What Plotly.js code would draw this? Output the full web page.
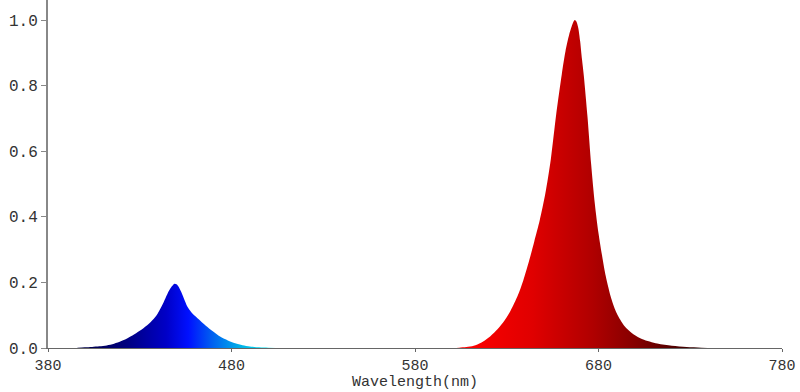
<!DOCTYPE html>
<html>
<head>
<meta charset="utf-8">
<script src="https://cdn.plot.ly/plotly-3.0.1.min.js"></script>
<style>
html,body{margin:0;padding:0;background:#fff;}
#chart{width:800px;height:392px;}
</style>
</head>
<body>
<div id="chart"></div>
<script>
// Blue LED emission (wavelength nm, relative intensity)
var blueWavelength = [396,400,404,408,412,416,420,424,428,432,436,439,442,444,446,447.5,449,450,451,452.5,454,456,458,460,463,466,470,474,478,482,486,490,495,500,504];
var blueIntensity  = [0.001,0.002,0.003,0.005,0.008,0.013,0.021,0.032,0.045,0.060,0.079,0.098,0.128,0.152,0.175,0.188,0.196,0.194,0.188,0.172,0.152,0.126,0.110,0.098,0.083,0.068,0.050,0.034,0.023,0.0145,0.0085,0.0045,0.002,0.0007,0];

// Red LED emission
var redWavelength = [600,604,608,612,616,620,624,628,632,636,639,642,645,648,651,654,657,660,662,664,666,667,668,669,670,671,672,674,676,678,680,682,684,687,690,694,699,704,712,720,728,736,745];
var redIntensity  = [0,0.001,0.003,0.007,0.016,0.031,0.052,0.078,0.113,0.160,0.206,0.262,0.325,0.390,0.470,0.575,0.715,0.835,0.905,0.955,0.990,1.0,0.995,0.975,0.935,0.880,0.830,0.705,0.560,0.440,0.350,0.280,0.218,0.150,0.105,0.068,0.042,0.027,0.014,0.007,0.003,0.001,0];

var xTicks = [380,480,580,680,780];
var yTicks = [0,0.2,0.4,0.6,0.8,1.0];
var xTitle = 'Wavelength(nm)';

var blueScale = [[0,'#000040'],[0.25,'#000080'],[0.45,'#0000c8'],[0.56,'#0010ff'],[0.68,'#0060f0'],[0.82,'#00b0e8'],[1,'#00f0f0']];
var redScale = [[0,'#ff0000'],[0.3,'#e00000'],[0.55,'#b00000'],[0.75,'#800000'],[1,'#300000']];

var traces = [
  {x: blueWavelength, y: blueIntensity, type:'scatter', mode:'lines',
   line:{width:0, shape:'spline', smoothing:0.8}, fill:'tozeroy',
   fillgradient:{type:'horizontal', colorscale: blueScale, start:396, stop:504},
   hoverinfo:'skip', showlegend:false},
  {x: redWavelength, y: redIntensity, type:'scatter', mode:'lines',
   line:{width:0, shape:'spline', smoothing:0.8}, fill:'tozeroy',
   fillgradient:{type:'horizontal', colorscale: redScale, start:605, stop:735},
   hoverinfo:'skip', showlegend:false}
];

var fontFamily = '"Liberation Mono", "Courier New", monospace';
var tickFont = {family:fontFamily, size:16, color:'#333'};
var xTickFont = {family:fontFamily, size:15, color:'#333'};
var titleFont = {family:fontFamily, size:15, color:'#333'};

var layout = {
  width:800, height:392,
  margin:{l:48, r:18, t:0, b:44, pad:0},
  paper_bgcolor:'#fff', plot_bgcolor:'#fff',
  showlegend:false,
  xaxis:{
    range:[380,780], tickvals:xTicks, ticktext:xTicks.map(String),
    showgrid:false, zeroline:false, showline:true, linecolor:'#666', linewidth:1,
    ticks:'outside', ticklen:3, tickcolor:'#666', tickfont:xTickFont
  },
  yaxis:{
    range:[0,1.061], tickvals:yTicks, ticktext:yTicks.map(function(v){return v.toFixed(1);}),
    showgrid:false, zeroline:false, showline:true, linecolor:'#888', linewidth:2,
    ticks:'outside', ticklen:5, tickcolor:'#888', tickfont:tickFont
  },
  annotations:[{
    text: xTitle, xref:'paper', yref:'paper', x:0.5, y:0,
    xanchor:'center', yanchor:'bottom', yshift:-45, showarrow:false,
    font: titleFont
  }]
};

Plotly.newPlot('chart', traces, layout, {staticPlot:true, displayModeBar:false});
</script>
</body>
</html>
